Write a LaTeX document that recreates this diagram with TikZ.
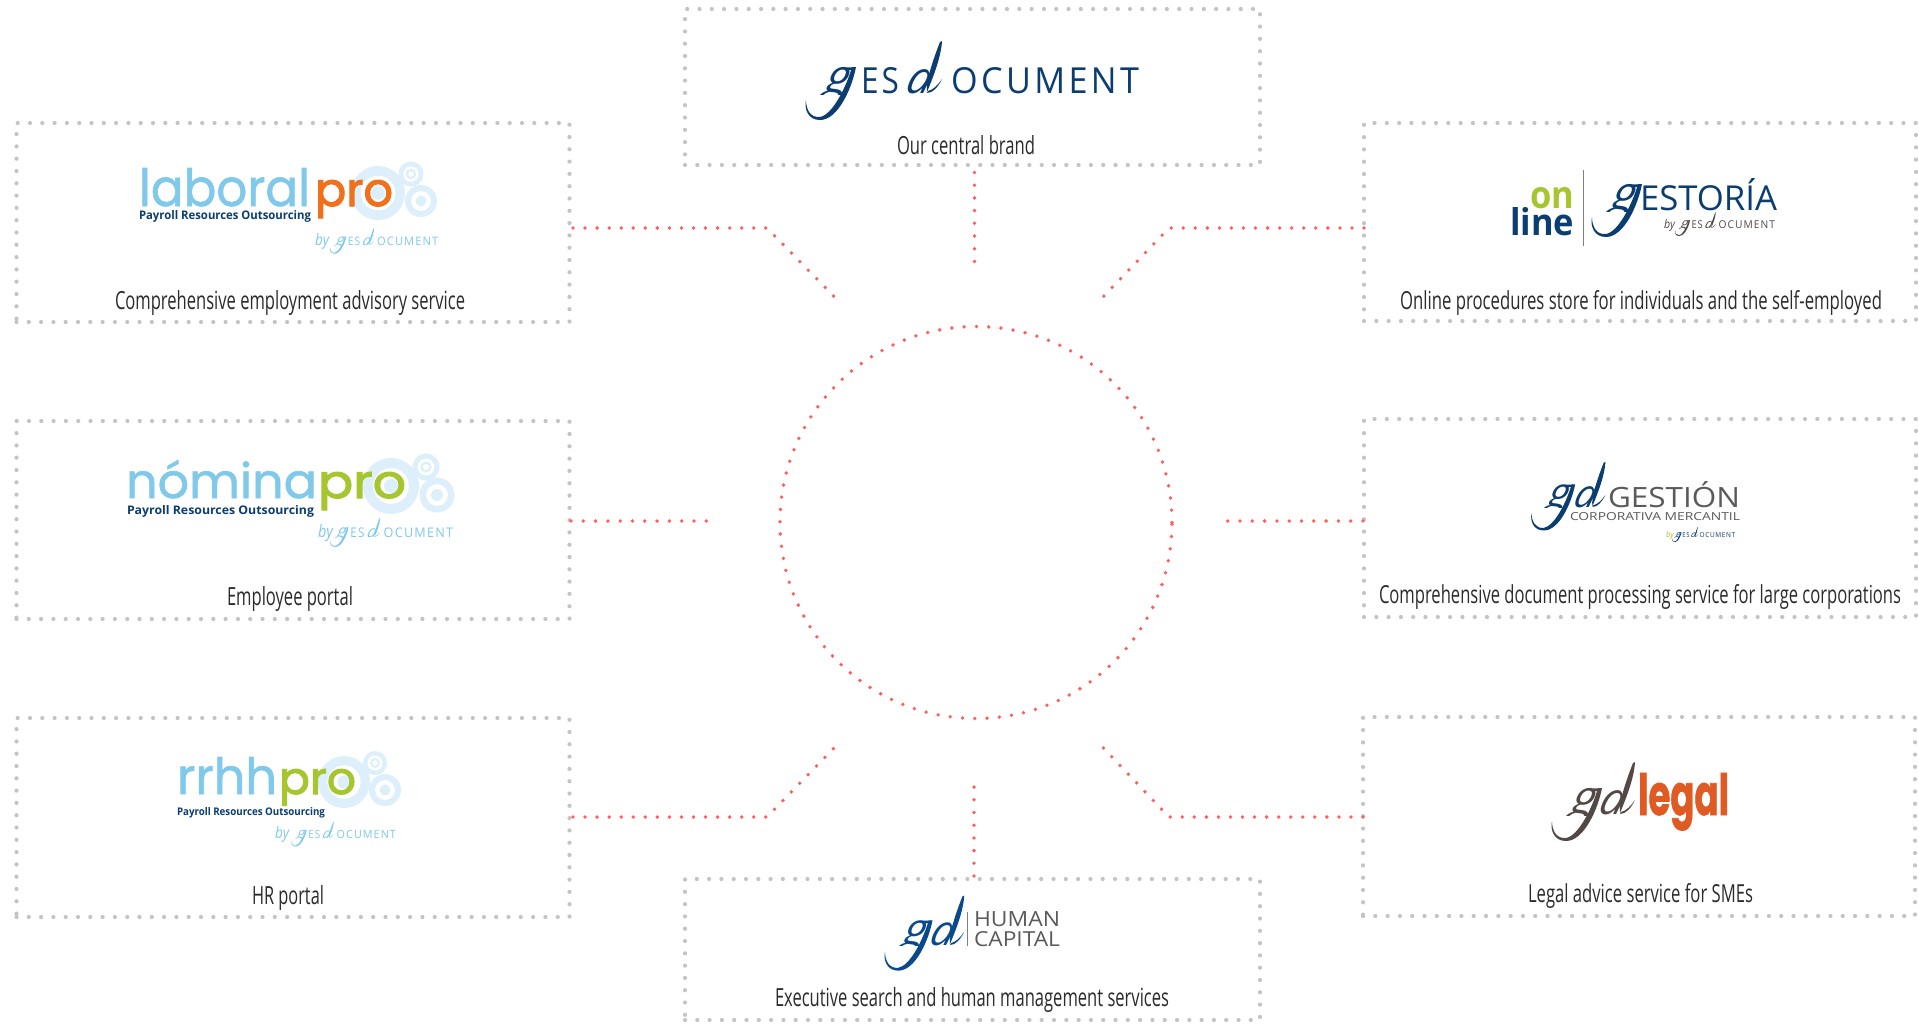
\documentclass[tikz,border=0pt]{standalone}
\usepackage{fontspec}
\usepackage{graphicx}
\setmainfont{Open Sans}
\newfontfamily\pop[FakeBold=1.2]{Poppins}
\newfontfamily\popb[FakeBold=2.2]{Poppins}
\newfontfamily\lsp[LetterSpace=10]{Open Sans}
\definecolor{dotgrey}{HTML}{C4C4C4}
\definecolor{dotred}{HTML}{FF5F5B}
\definecolor{navy}{HTML}{0B3D70}
\definecolor{sky}{HTML}{80C9EA}
\definecolor{pale}{HTML}{DCEFFA}
\definecolor{orangepro}{HTML}{F0701C}
\definecolor{greenpro}{HTML}{A6C62F}
\definecolor{brownish}{HTML}{524845}
\definecolor{greytxt}{HTML}{5A5A5A}
\definecolor{legalor}{HTML}{E05A24}
\definecolor{hcblue}{HTML}{0A4A8C}
\definecolor{labtxt}{HTML}{2B2B2B}
\tikzset{
  gbox/.style={draw=dotgrey,line width=4.2pt,line cap=round,dash pattern=on 0pt off 12.3pt,inner sep=0pt,outer sep=0pt,rectangle},
  hubst/.style={draw=dotred,line width=3.8pt,line cap=round,dash pattern=on 0pt off 12.3pt,inner sep=0pt,outer sep=0pt,circle},
  redlink/.style={draw=dotred,line width=3.8pt,line cap=round,dash pattern=on 0pt off 12.05pt},
  redstraight/.style={draw=dotred,line width=3.8pt,line cap=round,dash pattern=on 0pt off 12.3pt},
  redvert/.style={draw=dotred,line width=3.8pt,line cap=round,dash pattern=on 0pt off 12.7pt},
  tx/.style={anchor=base west,inner sep=0pt,outer sep=0pt}
}
% name, x, y, width, height, colour, content
\newcommand\tfit[7]{\node[tx,text=#6] (#1) at (#2,#3) {\resizebox{#4pt}{#5pt}{#7}};}
% caption: name, left, baseline, width, text
\newcommand\caplabel[5]{\node[tx,text=labtxt] (#1) at (#2,#3) {\resizebox{#4pt}{19pt}{#5}};}
% script g : prefix, bowl left, baseline, scale, colour
\newcommand\swg[5]{\begin{scope}[shift={(#2,#3)},scale=#4,transform shape,name prefix=#1-]
  \begin{scope}
  \clip (-8,-34) rectangle (40,1);
  \node[tx,text=#5,xslant=.28] (g) at (-4,0) {\fontsize{48}{50}\selectfont\itshape g};
  \end{scope}
  \fill[#5] (30,-26) .. controls (26,-5) and (12,27) .. (-6,27) .. controls (-18,27) and (-22,16) .. (-20,7) .. controls (-20,16) and (-16,25) .. (-6,24) .. controls (6,22) and (20,-5) .. (26,-26) -- cycle;
\end{scope}}
% script d : prefix, bowl left, baseline, scale, colour
\newcommand\swd[5]{\begin{scope}[shift={(#2,#3)},scale=#4,transform shape,name prefix=#1-]
  \begin{scope}
  \clip (-8,-26) rectangle (30,2);
  \node[tx,text=#5,xslant=.28] (d) at (-3,0) {\fontsize{44}{46}\selectfont\itshape d};
  \end{scope}
  \fill[#5] (35,-52) .. controls (34,-36) and (27,-18) .. (20,-1) .. controls (18,-10) and (27,-36) .. (33,-51) -- cycle;
  \fill[#5] (21,-2) .. controls (26,-3) and (31,-8) .. (35,-14) .. controls (31,-6) and (26,0) .. (20,0) -- cycle;
\end{scope}}
% gesdocument wordmark : prefix, left, baseline, scale, colour
\newcommand\gesmark[5]{\swg{#1g}{#2+20*#4}{#3}{#4}{#5}%
\swd{#1d}{#2+101*#4}{#3}{#4}{#5}%
\begin{scope}[shift={(#2,#3)},scale=#4,transform shape,name prefix=#1-]
  \tfit{es}{55}{0}{38}{26}{#5}{\lsp ES}
  \tfit{oc}{145}{0}{188}{26}{#5}{\lsp OCUMENT}
\end{scope}}
% gears : big x y r, s1 x y r, s2 x y r
\newcommand\gears[9]{%
  \fill[pale] (#4,#5) circle (#6);
  \fill[white] (#4,#5) circle (#6*.62);
  \fill[pale] (#4,#5) circle (#6*.42);
  \fill[white] (#4,#5) circle (#6*.22);
  \fill[pale] (#7,#8) circle (#9);
  \fill[white] (#7,#8) circle (#9*.62);
  \fill[pale] (#7,#8) circle (#9*.34);
  \fill[pale] (#1,#2) circle (#3);
  \fill[white] (#1,#2) circle (#3*.64);
  \fill[pale] (#1,#2) circle (#3*.25);
}
\begin{document}
\begin{tikzpicture}[x=1pt,y=-1pt]
\useasboundingbox (0,0) rectangle (1919,1023);
\fill[white] (0,0) rectangle (1919,1023);
% boxes
\node[gbox,minimum width=575pt,minimum height=156pt] (top) at (972.5,87) {};
\node[gbox,minimum width=575pt,minimum height=141pt] (bottom) at (972.5,949.5) {};
\node[gbox,minimum width=553pt,minimum height=199pt] (l1) at (293,222.5) {};
\node[gbox,minimum width=553pt,minimum height=198pt] (l2) at (293,520) {};
\node[gbox,minimum width=553pt,minimum height=199pt] (l3) at (293,817.5) {};
\node[gbox,minimum width=552pt,minimum height=198pt] (r1) at (1640,222) {};
\node[gbox,minimum width=552pt,minimum height=198pt] (r2) at (1640,518) {};
\node[gbox,minimum width=552pt,minimum height=199pt] (r3) at (1639,816.5) {};
% hub
\node[hubst,minimum size=392pt] (hub) at (976,522.5) {};
% connectors
\coordinate (a1) at (573,228); \coordinate (a2) at (767,228); \coordinate (a3) at (835,297.5);
\coordinate (b1) at (1364,228); \coordinate (b2) at (1169,228); \coordinate (b3) at (1102.5,297.5);
\coordinate (c1) at (573,817); \coordinate (c2) at (767,817); \coordinate (c3) at (835,747);
\coordinate (d1) at (1363,817); \coordinate (d2) at (1169,817); \coordinate (d3) at (1102.5,747);
\coordinate (e1) at (571,521); \coordinate (e2) at (706.6,521);
\coordinate (f1) at (1363,521); \coordinate (f2) at (1227.4,521);
\coordinate (g1) at (974.5,172.5); \coordinate (g2) at (974.5,262);
\coordinate (h1) at (974,876); \coordinate (h2) at (974,786.5);
\draw[redlink] (a1) -- (a2) -- (a3);
\draw[redlink] (b1) -- (b2) -- (b3);
\draw[redlink] (c1) -- (c2) -- (c3);
\draw[redlink] (d1) -- (d2) -- (d3);
\draw[redstraight] (e1) -- (e2);
\draw[redstraight] (f1) -- (f2);
\draw[redvert] (g1) -- (g2);
\draw[redvert] (h1) -- (h2);
% captions
\caplabel{captop}{897}{154}{138}{Our central brand}
\caplabel{capl1}{115}{309}{350}{Comprehensive employment advisory service}
\caplabel{capl2}{227}{605}{126}{Employee portal}
\caplabel{capl3}{252}{904}{72}{HR portal}
\caplabel{capr1}{1400}{309}{482}{Online procedures store for individuals and the self-employed}
\caplabel{capr2}{1379}{603}{522}{Comprehensive document processing service for large corporations}
\caplabel{capr3}{1528}{902}{225}{Legal advice service for SMEs}
\caplabel{capb}{775}{1006}{394}{Executive search and human management services}
% central brand logo
\gesmark{mk0}{806}{93}{1}{navy}
% laboralpro
\gears{378}{193}{27}{411}{174}{12.5}{421}{201}{16}
\tfit{lab}{139}{206}{171}{38}{sky}{\pop laboral}
\tfit{labp}{315}{206}{78}{26}{orangepro}{\popb pro}
\tfit{labs}{139}{219}{172}{9}{navy}{\bfseries Payroll Resources Outsourcing}
\tfit{laby}{315}{245}{14}{12}{sky}{\itshape by}
\gesmark{mk1}{330}{245}{.325}{sky}
% nominapro
\gears{391}{486}{28}{426}{467}{13.5}{437}{495}{17.5}
\tfit{nom}{126}{498}{191}{38}{sky}{\pop nómina}
\tfit{nomp}{318}{498}{88}{26}{greenpro}{\popb pro}
\tfit{noms}{127}{514}{187}{9}{navy}{\bfseries Payroll Resources Outsourcing}
\tfit{noby}{318}{537}{15}{13}{sky}{\itshape by}
\gesmark{mk2}{330}{537}{.37}{sky}
% rrhhpro
\gears{344}{782}{26}{375}{763}{12}{385}{790}{16}
\tfit{rrh}{177}{794}{100}{37}{sky}{\pop rrhh}
\tfit{rrhp}{279}{794}{77}{25}{greenpro}{\popb pro}
\tfit{rrhs}{177}{815}{148}{8}{navy}{\bfseries Payroll Resources Outsourcing}
\tfit{rrby}{275}{838}{14}{12}{sky}{\itshape by}
\gesmark{mk3}{291}{838}{.315}{sky}
% online gestoria
\tfit{on}{1530}{208}{44}{21}{greenpro}{\bfseries on}
\tfit{li}{1510}{235}{64}{28}{navy}{\bfseries line}
\node[inner sep=0pt] (vt1) at (1583,169) {};
\node[inner sep=0pt] (vb1) at (1583,247) {};
\draw[gray,line width=.8pt] (vt1) -- (vb1);
\swg{bigg}{1612}{210}{1}{navy}
\tfit{est}{1640}{210}{137}{32}{navy}{ESTORÍA}
\tfit{onby}{1664}{228}{11}{9}{brownish}{\itshape by}
\gesmark{mk4}{1675}{228}{.3}{brownish}
% gestion
\swg{gg}{1549}{507}{.87}{navy}
\swd{gd}{1575}{507}{.87}{navy}
\tfit{ges}{1608}{507}{132}{26}{greytxt}{GESTIÓN}
\tfit{cor}{1570}{520}{170}{8}{greytxt}{CORPORATIVA MERCANTIL}
\tfit{gby}{1666}{537}{8}{6}{greenpro}{\itshape by}
\gesmark{mk5}{1672}{537}{.19}{navy}
% legal
\swg{lg}{1572}{814}{1}{brownish}
\swd{ld}{1600}{814}{1}{brownish}
\tfit{leg}{1638}{815}{91}{42}{legalor}{\pop\bfseries legal}
% human capital
\swg{hg}{904}{945}{.95}{hcblue}
\swd{hd}{931}{945}{.95}{hcblue}
\node[inner sep=0pt] (vt2) at (967,911) {};
\node[inner sep=0pt] (vb2) at (967,947) {};
\draw[gray,line width=.8pt] (vt2) -- (vb2);
\tfit{hum}{974}{926}{86}{15}{greytxt}{HUMAN}
\tfit{cap}{974}{946}{86}{15}{greytxt}{CAPITAL}
\end{tikzpicture}
\end{document}
